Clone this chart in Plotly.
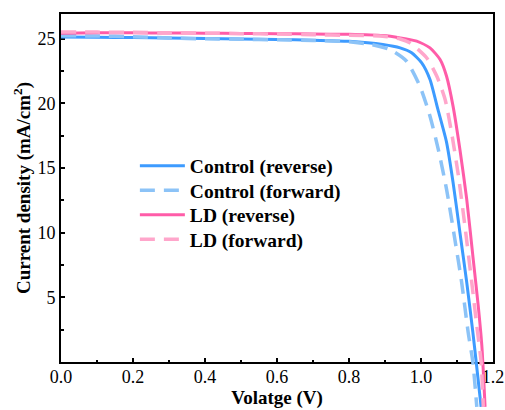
import plotly.graph_objects as go

# Control (reverse)
v_ctrl_rev = [0, 0.1, 0.2, 0.3, 0.4, 0.5, 0.6, 0.7, 0.8, 0.894, 0.942, 0.974, 1.002, 1.025,
              1.047, 1.071, 1.089, 1.108, 1.127, 1.144, 1.153, 1.167]
j_ctrl_rev = [25.12, 25.1, 25.08, 25.05, 25.0, 24.97, 24.93, 24.88, 24.79, 24.54, 24.28, 23.9,
              23.13, 21.84, 19.52, 16.98, 13.9, 10.03, 6.17, 2.31, 0.08, -3.47]

# Control (forward)
v_ctrl_fwd = [0, 0.1, 0.2, 0.3, 0.4, 0.5, 0.6, 0.7, 0.8, 0.86, 0.914, 0.96, 0.997, 1.025,
              1.048, 1.071, 1.094, 1.113, 1.131, 1.144, 1.155]
j_ctrl_fwd = [25.22, 25.2, 25.15, 25.05, 24.98, 24.95, 24.9, 24.85, 24.75, 24.55, 24.15, 23.25,
              21.32, 19.0, 16.44, 13.35, 9.49, 6.15, 2.29, 0.0, -3.47]

# LD (reverse)
v_ld_rev = [0, 0.1, 0.2, 0.3, 0.4, 0.5, 0.6, 0.7, 0.8, 0.894, 0.942, 0.988, 1.025, 1.053,
            1.071, 1.089, 1.108, 1.127, 1.145, 1.159, 1.169, 1.178]
j_ld_rev = [25.42, 25.45, 25.45, 25.43, 25.42, 25.4, 25.38, 25.35, 25.33, 25.23, 25.05, 24.8,
            24.28, 23.38, 22.09, 19.78, 16.44, 12.58, 7.95, 4.34, 1.26, -3.47]

# LD (forward)
v_ld_fwd = [0, 0.1, 0.2, 0.3, 0.4, 0.5, 0.6, 0.7, 0.8, 0.894, 0.942, 0.969, 1.016, 1.044,
            1.067, 1.085, 1.104, 1.122, 1.141, 1.155, 1.167, 1.173]
j_ld_fwd = [25.5, 25.5, 25.48, 25.45, 25.42, 25.38, 25.35, 25.3, 25.25, 25.18, 24.97, 24.67,
            23.5, 22.09, 20.29, 17.72, 14.38, 10.52, 6.15, 2.8, 0.0, -3.47]

x_ticks = [0.0, 0.2, 0.4, 0.6, 0.8, 1.0, 1.2]
y_ticks = [5, 10, 15, 20, 25]

FONT = "Liberation Serif"
fig = go.Figure()

# invisible trace so the main (framed) y axis is drawn
fig.add_trace(go.Scatter(x=[None], y=[None], mode="lines", showlegend=False,
                         hoverinfo="skip", xaxis="x", yaxis="y"))

series = [
    ("Control (reverse)", v_ctrl_rev, j_ctrl_rev, "#3D9BFF", "solid", 3),
    ("Control (forward)", v_ctrl_fwd, j_ctrl_fwd, "#8CC3F7", "15px,9px", 3.5),
    ("LD (reverse)", v_ld_rev, j_ld_rev, "#FF5CA8", "solid", 3),
    ("LD (forward)", v_ld_fwd, j_ld_fwd, "#FFA6CB", "15px,9px", 3.5),
]
legend_ids = ["legend", "legend2", "legend3", "legend4"]
legend_rows_px = [166, 190.5, 215, 239.5]

for (name, v, j, c, d, w), lg in zip(series, legend_ids):
    fig.add_trace(go.Scatter(x=v, y=j, mode="lines", name=name, legend=lg,
                             line=dict(color=c, dash=d, width=w, shape="spline", smoothing=0.6),
                             xaxis="x", yaxis="y2"))

legend_style = dict(x=0.171, xanchor="left", yanchor="middle",
                    bgcolor="rgba(0,0,0,0)", font=dict(size=19.5, family=FONT, weight="bold"),
                    itemwidth=45)
leg_layout = {}
for lg, ypx in zip(legend_ids, legend_rows_px):
    leg_layout[lg] = dict(legend_style, y=(410 - ypx) / 396)

fig.update_layout(
    width=505, height=410,
    margin=dict(l=61, r=12, t=14, b=0),
    paper_bgcolor="white", plot_bgcolor="rgba(0,0,0,0)",
    font=dict(family=FONT, color="black", size=18),
    showlegend=True,
    xaxis=dict(range=[0, 1.2], anchor="y", tickvals=x_ticks,
               ticktext=[f"{t:.1f}" for t in x_ticks],
               ticks="inside", ticklen=4, tickwidth=1.5, tickcolor="black",
               minor=dict(dtick=0.1, ticks="inside", ticklen=2.5, tickcolor="black", showgrid=False),
               showline=True, linecolor="black", linewidth=2, mirror=True,
               showgrid=False, zeroline=False, ticklabelstandoff=-3,
               title=dict(text="<b>Volatge (V)</b>", font=dict(size=19), standoff=2),
               tickfont=dict(size=18)),
    yaxis=dict(range=[0, 26.9], domain=[0.1212, 1], anchor="x", tickvals=y_ticks,
               ticks="inside", ticklen=4, tickwidth=1.5, tickcolor="black",
               minor=dict(dtick=2.5, ticks="inside", ticklen=2.5, tickcolor="black", showgrid=False),
               showline=True, linecolor="black", linewidth=2, mirror=True,
               showgrid=False, zeroline=False,
               title=dict(text="<b>Current density (mA/cm<sup>2</sup>)</b>", font=dict(size=19), standoff=2),
               tickfont=dict(size=18)),
    yaxis2=dict(range=[-3.71, 26.9], domain=[0, 1], anchor="x",
                visible=False, showgrid=False, zeroline=False),
    **leg_layout,
)

fig.write_html("out.html")
